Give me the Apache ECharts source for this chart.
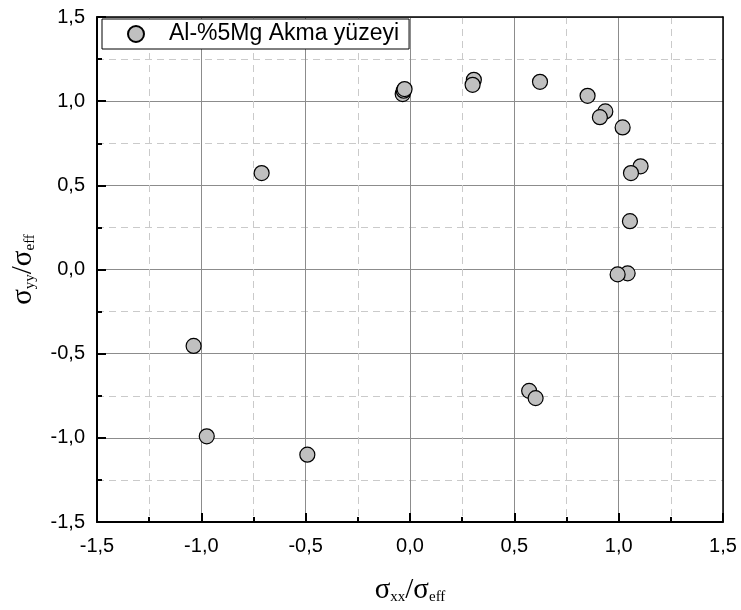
<!DOCTYPE html>
<html>
<head>
<meta charset="utf-8">
<script src="https://cdn.jsdelivr.net/npm/echarts@6/dist/echarts.min.js"></script>
<style>
  html, body { margin: 0; padding: 0; background: #fff; }
  #chart { width: 741px; height: 610px; }
</style>
</head>
<body>
<div id="chart"></div>
<script>
// Normalised yield surface points: sigma_xx / sigma_eff and sigma_yy / sigma_eff
const seriesName = 'Al-%5Mg Akma yüzeyi';
const sxx = [-0.974, -0.492, -1.037, -0.711, -0.035, -0.030, -0.026, 0.306, 0.300, 0.623,
             0.851, 0.936, 0.910, 1.019, 1.105, 1.059, 1.054, 1.043, 0.995, 0.571, 0.602];
const syy = [-0.991, -1.100, -0.454, 0.573, 1.042, 1.062, 1.072, 1.127, 1.097, 1.115,
             1.032, 0.939, 0.905, 0.844, 0.613, 0.573, 0.287, -0.023, -0.029, -0.721, -0.764];
const axisMin = -1.5;
const axisMax = 1.5;
const axisStep = 0.5;

const points = sxx.map((x, i) => [x, syy[i]]);
const fmt = v => v.toFixed(1).replace('.', ',');

const tickFont = { fontFamily: 'Liberation Sans, Arial, sans-serif', fontSize: 20, color: '#000' };
const titleRich = {
  s: { fontFamily: 'Liberation Serif, Times New Roman, serif', fontSize: 29, color: '#000', lineHeight: 36, verticalAlign: 'middle' },
  b: { fontFamily: 'Liberation Serif, Times New Roman, serif', fontSize: 15, color: '#000', lineHeight: 36, verticalAlign: 'middle', padding: [15, 0, 0, 0] }
};

const mainAxis = (extra) => Object.assign({
  type: 'value',
  min: axisMin,
  max: axisMax,
  interval: axisStep,
  axisLine: { show: true, onZero: false, lineStyle: { color: '#000', width: 2 } },
  axisTick: { show: true, inside: true, length: 9, lineStyle: { color: '#000', width: 2 } },
  minorTick: { show: true, splitNumber: 2, length: 5, lineStyle: { color: '#000', width: 2 } },
  splitLine: { show: true, lineStyle: { color: '#8c8c8c', width: 1 } },
  minorSplitLine: { show: true, lineStyle: { color: '#cacaca', width: 1, type: [7, 5] } },
  axisLabel: Object.assign({ formatter: fmt }, tickFont)
}, extra);

const frameAxis = (extra) => Object.assign({
  type: 'value',
  min: axisMin,
  max: axisMax,
  interval: axisStep,
  axisLine: { show: true, onZero: false, lineStyle: { color: '#000', width: 1.5 } },
  axisTick: { show: false },
  axisLabel: { show: false },
  splitLine: { show: false }
}, extra);

const chart = echarts.init(document.getElementById('chart'));
chart.setOption({
  animation: false,
  backgroundColor: '#fff',
  grid: { left: 97, right: 18, top: 17, bottom: 87 },
  legend: {
    left: 102,
    top: 19,
    orient: 'vertical',
    backgroundColor: '#fff',
    borderColor: '#000',
    borderWidth: 1,
    borderRadius: 0,
    padding: [3, 10, 3, 25],
    itemWidth: 56,
    itemHeight: 16,
    textStyle: { fontFamily: 'Liberation Sans, Arial, sans-serif', fontSize: 23, color: '#000', lineHeight: 24 },
    data: [seriesName]
  },
  xAxis: [
    mainAxis({
      position: 'bottom',
      name: '{s|σ}{b|xx}{s|/σ}{b|eff}',
      nameLocation: 'middle',
      nameGap: 50,
      nameTextStyle: { rich: titleRich },
      axisLabel: Object.assign({ formatter: fmt, margin: 14 }, tickFont)
    }),
    frameAxis({ position: 'top' })
  ],
  yAxis: [
    mainAxis({
      position: 'left',
      name: '{s|σ}{b|yy}{s|/σ}{b|eff}',
      nameLocation: 'middle',
      nameGap: 56,
      nameTextStyle: { rich: titleRich },
      axisLabel: Object.assign({ formatter: fmt, margin: 12 }, tickFont)
    }),
    frameAxis({ position: 'right' })
  ],
  series: [{
    name: seriesName,
    type: 'scatter',
    symbol: 'circle',
    symbolSize: 15,
    itemStyle: { color: '#c0c0c0', borderColor: '#000', borderWidth: 1.2, opacity: 1 },
    data: points
  }]
});
</script>
</body>
</html>
